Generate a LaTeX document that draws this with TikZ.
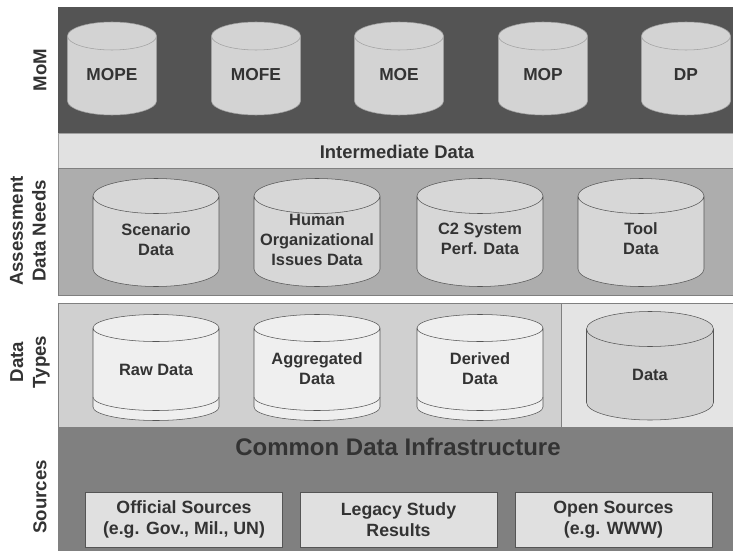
\documentclass[tikz,border=0pt]{standalone}
\usepackage{fontspec}
\setmainfont{Liberation Sans}
\usepackage{tikz}

\definecolor{momband}{HTML}{545454}
\definecolor{momfill}{HTML}{D3D3D3}
\definecolor{momline}{HTML}{A0A0A0}
\definecolor{interfill}{HTML}{E1E1E1}
\definecolor{needband}{HTML}{ADADAD}
\definecolor{needfill}{HTML}{D7D7D7}
\definecolor{typeband}{HTML}{D0D0D0}
\definecolor{typeright}{HTML}{E4E4E4}
\definecolor{typefill}{HTML}{EFEFEF}
\definecolor{datafill}{HTML}{D2D2D2}
\definecolor{srcband}{HTML}{808080}
\definecolor{srcfill}{HTML}{E0E0E0}
\definecolor{canline}{HTML}{555555}
\definecolor{txtgray}{HTML}{333333}

\begin{document}
\begin{tikzpicture}[x=0.75pt,y=0.75pt,yscale=-1,xscale=1,
  sidelabel/.style={font=\bfseries\fontsize{14}{17}\selectfont,text=txtgray,rotate=90,align=center},
  cantext/.style={font=\bfseries\fontsize{12.3}{15}\selectfont,text=txtgray,align=center},
  momtext/.style={font=\bfseries\fontsize{13}{15}\selectfont,text=txtgray},
  momcan/.style={draw=momline,fill=momfill,x radius=44.5,y radius=14},
  needcan/.style={draw=canline,fill=needfill,x radius=63,y radius=17.5},
  typecan/.style={draw=canline,fill=typefill,x radius=63,y radius=13.5},
  datacan/.style={draw=canline,fill=datafill,x radius=63.5,y radius=17.5},
  srcbox/.style={draw=canline,fill=srcfill,minimum width=147.75pt,minimum height=41.25pt,
    font=\bfseries\fontsize{13.3}{15.8}\selectfont,text=txtgray,align=center}]
\useasboundingbox (0,0) rectangle (733,553);

%Shape: Rectangle (bands)
\fill[momband] (58,7) rectangle (733,133);
\draw[fill=interfill,draw=momline] (58,133) rectangle (733,168);
\draw[fill=needband,draw=gray] (58,168) rectangle (733,295);
\draw[fill=typeband,draw=gray] (58,303) rectangle (733,427);
\draw[fill=typeright,draw=gray] (561,303) rectangle (733,427);
\fill[srcband] (58,427) rectangle (733,551);

%Shape: Can (MoM)
\draw[momcan] (67.5,36) -- (67.5,101) arc[start angle=180,end angle=0] -- (156.5,36) arc[start angle=0,end angle=-180] -- cycle (67.5,36) arc[start angle=180,end angle=0];
\draw[momcan] (211.5,36) -- (211.5,101) arc[start angle=180,end angle=0] -- (300.5,36) arc[start angle=0,end angle=-180] -- cycle (211.5,36) arc[start angle=180,end angle=0];
\draw[momcan] (354.5,36) -- (354.5,101) arc[start angle=180,end angle=0] -- (443.5,36) arc[start angle=0,end angle=-180] -- cycle (354.5,36) arc[start angle=180,end angle=0];
\draw[momcan] (498.5,36) -- (498.5,101) arc[start angle=180,end angle=0] -- (587.5,36) arc[start angle=0,end angle=-180] -- cycle (498.5,36) arc[start angle=180,end angle=0];
\draw[momcan] (641.5,36) -- (641.5,101) arc[start angle=180,end angle=0] -- (730.5,36) arc[start angle=0,end angle=-180] -- cycle (641.5,36) arc[start angle=180,end angle=0];

%Shape: Can (Assessment Data Needs)
\draw[needcan] (93,196) -- (93,269) arc[start angle=180,end angle=0] -- (219,196) arc[start angle=0,end angle=-180] -- cycle (93,196) arc[start angle=180,end angle=0];
\draw[needcan] (254,196) -- (254,269) arc[start angle=180,end angle=0] -- (380,196) arc[start angle=0,end angle=-180] -- cycle (254,196) arc[start angle=180,end angle=0];
\draw[needcan] (417,196) -- (417,269) arc[start angle=180,end angle=0] -- (543,196) arc[start angle=0,end angle=-180] -- cycle (417,196) arc[start angle=180,end angle=0];
\draw[needcan] (578,196) -- (578,269) arc[start angle=180,end angle=0] -- (704,196) arc[start angle=0,end angle=-180] -- cycle (578,196) arc[start angle=180,end angle=0];

%Shape: Can with base rim (Data Types)
\draw[typecan] (93,397) -- (93,407) arc[start angle=180,end angle=0] -- (219,397);
\draw[typecan] (93,328) -- (93,397) arc[start angle=180,end angle=0] -- (219,328) arc[start angle=0,end angle=-180] -- cycle (93,328) arc[start angle=180,end angle=0];
\draw[typecan] (254,397) -- (254,407) arc[start angle=180,end angle=0] -- (380,397);
\draw[typecan] (254,328) -- (254,397) arc[start angle=180,end angle=0] -- (380,328) arc[start angle=0,end angle=-180] -- cycle (254,328) arc[start angle=180,end angle=0];
\draw[typecan] (417,397) -- (417,407) arc[start angle=180,end angle=0] -- (543,397);
\draw[typecan] (417,328) -- (417,397) arc[start angle=180,end angle=0] -- (543,328) arc[start angle=0,end angle=-180] -- cycle (417,328) arc[start angle=180,end angle=0];
%Shape: Can
\draw[datacan] (586.5,329) -- (586.5,402.5) arc[start angle=180,end angle=0] -- (713.5,329) arc[start angle=0,end angle=-180] -- cycle (586.5,329) arc[start angle=180,end angle=0];

% Text Node
\node[sidelabel] (lblmom) at (40,70) {MoM};
\node[sidelabel] (lblneeds) at (28,231) {Assessment\\Data Needs};
\node[sidelabel] (lbltypes) at (30,362) {Data\\Types};
\node[sidelabel] (lblsrc) at (40,497) {Sources};
% Text Node
\node[momtext] (mope) at (112,75) {MOPE};
\node[momtext] (mofe) at (256,75) {MOFE};
\node[momtext] (moe) at (399,75) {MOE};
\node[momtext] (mop) at (543,75) {MOP};
\node[momtext] (dp) at (686,75) {DP};
% Text Node
\node[momtext,font=\bfseries\fontsize{13.8}{15}\selectfont] (interm) at (397,152) {Intermediate Data};
% Text Node
\node[cantext] (scenario) at (156,240) {Scenario\\Data};
\node[cantext] (human) at (317,240) {Human\\Organizational\\Issues Data};
\node[cantext] (c2perf) at (480,239) {C2 System\\Perf. Data};
\node[cantext] (tooldata) at (641,239) {Tool\\Data};
% Text Node
\node[cantext] (rawdata) at (156,370) {Raw Data};
\node[cantext] (aggdata) at (317,369) {Aggregated\\Data};
\node[cantext] (derdata) at (480,369) {Derived\\Data};
\node[cantext] (data) at (650,375) {Data};
% Text Node
\node[momtext,font=\bfseries\fontsize{18}{20}\selectfont] (cdi) at (398,447) {Common Data Infrastructure};
\node[srcbox] (official) at (184,519.5) {Official Sources\\(e.g. Gov., Mil., UN)};
\node[srcbox] (legacy) at (398.5,519.5) {Legacy Study\\Results};
\node[srcbox] (opensrc) at (613.5,519.5) {Open Sources\\(e.g. WWW)};

\end{tikzpicture}
\end{document}
